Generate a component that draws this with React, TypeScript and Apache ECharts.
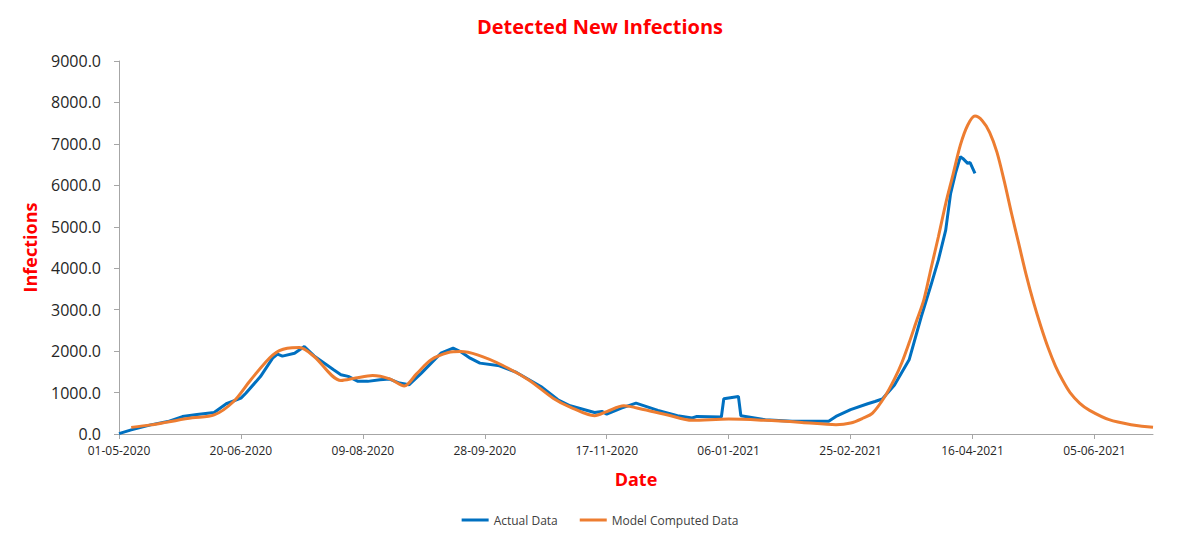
import React, { useEffect, useRef } from "react";
import * as echarts from "echarts";

const START_DATE = "2020-05-01";
const DAY_COUNT = 425;

// Actual data: day offset from 01-05-2020 and detected new infections
const actualDays = [0, 5, 13, 20, 26, 32, 39, 44, 50, 52, 58, 63, 65, 67, 72, 76, 80, 88, 91, 94, 98, 102, 107, 111, 115, 119, 124, 128, 132, 137, 140, 144, 148, 156, 163, 173, 180, 185, 195, 198, 200, 206, 212, 221, 229, 235, 237, 247, 248, 254, 255, 265, 276, 285, 291, 294, 300, 307, 310, 313, 318, 324, 329, 333, 336, 339, 341, 343, 345, 346, 348, 349, 351];
const actualValues = [10, 100, 220, 300, 420, 470, 520, 730, 865, 985, 1385, 1830, 1930, 1880, 1950, 2110, 1885, 1550, 1430, 1390, 1270, 1270, 1310, 1325, 1230, 1190, 1470, 1710, 1950, 2070, 1990, 1830, 1710, 1645, 1485, 1145, 825, 680, 520, 545, 480, 625, 745, 570, 440, 385, 425, 410, 850, 905, 440, 345, 305, 305, 305, 425, 590, 730, 785, 845, 1180, 1790, 2835, 3600, 4200, 4920, 5800, 6290, 6690, 6650, 6530, 6550, 6290];

// Model computed data
const modelDays = [5, 13, 20, 30, 39, 47, 54, 63, 69, 74, 80, 91, 97, 104, 111, 117, 122, 128, 135, 140, 147, 157, 168, 178, 185, 195, 200, 207, 215, 225, 235, 250, 265, 280, 294, 300, 305, 309, 314, 318, 321, 324, 327, 330, 333, 336, 339, 342, 345, 348, 351, 354, 357, 360, 363, 366, 369, 372, 375, 378, 381, 384, 387, 390, 394, 398, 406, 415, 424];
const modelValues = [160, 220, 290, 390, 460, 785, 1305, 1905, 2070, 2085, 1870, 1290, 1350, 1410, 1330, 1160, 1450, 1790, 1965, 1990, 1910, 1665, 1305, 865, 650, 440, 540, 680, 590, 460, 330, 360, 330, 280, 225, 265, 380, 505, 900, 1330, 1720, 2200, 2720, 3230, 4000, 4760, 5560, 6260, 6970, 7450, 7670, 7560, 7280, 6800, 6100, 5320, 4580, 3840, 3180, 2600, 2080, 1640, 1290, 1000, 740, 570, 345, 225, 160];

const yTicks = [0, 1000, 2000, 3000, 4000, 5000, 6000, 7000, 8000, 9000];

function buildCategories(): string[] {
  const base = Date.parse(START_DATE + "T00:00:00Z");
  const out: string[] = [];
  for (let i = 0; i < DAY_COUNT; i++) {
    const d = new Date(base + i * 86400000);
    const dd = String(d.getUTCDate()).padStart(2, "0");
    const mm = String(d.getUTCMonth() + 1).padStart(2, "0");
    out.push(`${dd}-${mm}-${d.getUTCFullYear()}`);
  }
  return out;
}

const FONT = "'Open Sans', sans-serif";

export default function App() {
  const ref = useRef<HTMLDivElement>(null);
  useEffect(() => {
    if (!ref.current) return;
    const chart = echarts.init(ref.current, null, { renderer: "svg" });
    const categories = buildCategories();
    chart.setOption({
      animation: false,
      backgroundColor: "#ffffff",
      title: {
        text: "Detected New Infections",
        left: "center",
        top: 11,
        textStyle: { color: "#FF0000", fontSize: 20, fontWeight: "bold", fontFamily: FONT },
      },
      legend: {
        bottom: 10,
        left: "center",
        icon: "rect",
        itemWidth: 27,
        itemHeight: 3,
        itemGap: 22,
        textStyle: { fontSize: 12, color: "#404040", fontFamily: FONT },
        data: ["Actual Data", "Model Computed Data"],
      },
      grid: { left: 119, right: 47, top: 61, bottom: 107, containLabel: false },
      xAxis: {
        type: "category",
        data: categories,
        boundaryGap: false,
        name: "Date",
        nameLocation: "middle",
        nameGap: 36,
        nameTextStyle: { color: "#FF0000", fontSize: 18, fontWeight: "bold", fontFamily: FONT },
        axisLine: { lineStyle: { color: "#A6A6A6", width: 1 } },
        axisTick: { show: true, interval: 49, length: 5, lineStyle: { color: "#A6A6A6" } },
        axisLabel: { interval: 49, color: "#262626", fontSize: 12, margin: 10, fontFamily: FONT },
        splitLine: { show: false },
      },
      yAxis: {
        type: "value",
        min: yTicks[0],
        max: yTicks[yTicks.length - 1],
        interval: 1000,
        name: "Infections",
        nameLocation: "middle",
        nameGap: 80,
        nameTextStyle: { color: "#FF0000", fontSize: 18, fontWeight: "bold", fontFamily: FONT },
        axisLine: { show: true, lineStyle: { color: "#A6A6A6", width: 1 } },
        axisTick: { show: true, length: 5, lineStyle: { color: "#A6A6A6" } },
        axisLabel: {
          color: "#262626",
          fontSize: 16,
          margin: 18,
          fontFamily: FONT,
          formatter: (v: number) => v.toFixed(1),
        },
        splitLine: { show: false },
      },
      series: [
        {
          name: "Actual Data",
          type: "line",
          data: actualDays.map((d, i) => [d, actualValues[i]]),
          showSymbol: false,
          symbol: "none",
          lineStyle: { color: "#0070C0", width: 3 },
          itemStyle: { color: "#0070C0" },
        },
        {
          name: "Model Computed Data",
          type: "line",
          data: modelDays.map((d, i) => [d, modelValues[i]]),
          showSymbol: false,
          symbol: "none",
          smooth: 0.3,
          lineStyle: { color: "#ED7D31", width: 3 },
          itemStyle: { color: "#ED7D31" },
        },
      ],
    });
    return () => chart.dispose();
  }, []);
  return (
    <div
      ref={ref}
      style={{ position: "absolute", left: 0, top: 0, width: 1200, height: 541, background: "#fff" }}
    />
  );
}
